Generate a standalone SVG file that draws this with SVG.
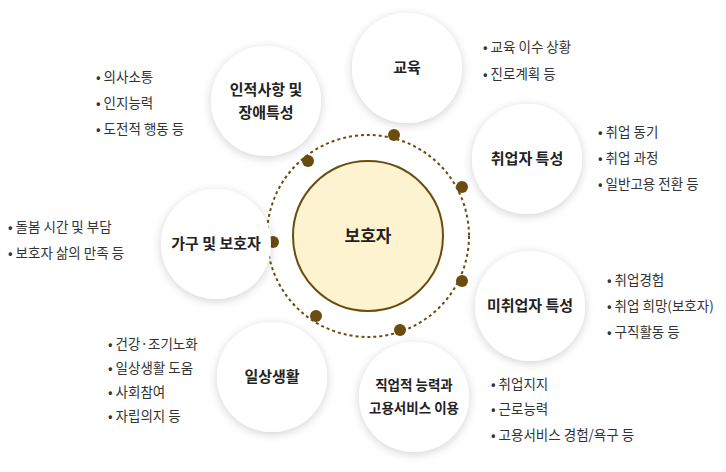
<svg xmlns="http://www.w3.org/2000/svg" width="726" height="472" viewBox="0 0 726 472">
<defs>
<filter id="sh" x="-30%" y="-30%" width="160%" height="160%"><feDropShadow dx="0" dy="2" stdDeviation="5" flood-color="#000" flood-opacity="0.18"/></filter>
<style>
text{font-family:"Noto Sans CJK KR","Noto Sans",sans-serif;fill:#222}
.n{fill:#fff;filter:url(#sh)}
.t{font-size:15px;font-weight:bold;text-anchor:middle}
.l{font-size:13.5px;fill:#333}
.b{fill:#6b4c0f}
</style>
</defs>
<rect width="726" height="472" fill="#fff"/>
<g id="connectors">
<circle cx="368" cy="236" r="101" fill="none" stroke="#6b4c0f" stroke-width="2" stroke-dasharray="3,3"/>
<circle class="b" cx="394" cy="135" r="6"/><circle class="b" cx="308" cy="161" r="6"/><circle class="b" cx="462" cy="187" r="6"/><circle class="b" cx="273" cy="242" r="6"/><circle class="b" cx="462" cy="281" r="6"/><circle class="b" cx="316" cy="316" r="6"/><circle class="b" cx="400" cy="330" r="6"/>
</g>
<g id="center"><circle cx="368" cy="236" r="75" fill="#fdf3d0" stroke="#6b4c0f" stroke-width="2"/><text class="t" x="368" y="242" style="font-size:17px">보호자</text></g>
<g id="n1"><circle class="n" cx="407" cy="68" r="55"/><text class="t" x="407" y="73">교육</text></g>
<g id="n2"><circle class="n" cx="266" cy="101" r="55"/><text class="t" x="266" y="95">인적사항 및</text><text class="t" x="266" y="118">장애특성</text></g>
<g id="n3"><circle class="n" cx="527" cy="159" r="55"/><text class="t" x="527" y="164">취업자 특성</text></g>
<g id="n4"><circle class="n" cx="216" cy="244" r="55"/><text class="t" x="216" y="249">가구 및 보호자</text></g>
<g id="n5"><circle class="n" cx="530" cy="306" r="55"/><text class="t" x="530" y="311">미취업자 특성</text></g>
<g id="n6"><circle class="n" cx="272" cy="377" r="55"/><text class="t" x="272" y="382">일상생활</text></g>
<g id="n7"><circle class="n" cx="414" cy="397" r="55"/><text class="t" x="414" y="390" style="font-size:13.5px">직업적 능력과</text><text class="t" x="414" y="413" style="font-size:13.5px">고용서비스 이용</text></g>
<g id="labels">
<text class="l" x="483" y="52">•  교육 이수 상황</text><text class="l" x="483" y="79">•  진로계획 등</text>
<text class="l" x="96" y="82">•  의사소통</text><text class="l" x="96" y="108">•  인지능력</text><text class="l" x="96" y="134">•  도전적 행동 등</text>
<text class="l" x="598" y="137">•  취업 동기</text><text class="l" x="598" y="163">•  취업 과정</text><text class="l" x="598" y="189">•  일반고용 전환 등</text>
<text class="l" x="8" y="232">•  돌봄 시간 및 부담</text><text class="l" x="8" y="258">•  보호자 삶의 만족 등</text>
<text class="l" x="607" y="285">•  취업경험</text><text class="l" x="607" y="311">•  취업 희망(보호자)</text><text class="l" x="607" y="337">•  구직활동 등</text>
<text class="l" x="108" y="349">•  건강·조기노화</text><text class="l" x="108" y="373">•  일상생활 도움</text><text class="l" x="108" y="397">•  사회참여</text><text class="l" x="108" y="421">•  자립의지 등</text>
<text class="l" x="491" y="389">•  취업지지</text><text class="l" x="491" y="414">•  근로능력</text><text class="l" x="491" y="440">•  고용서비스 경험/욕구 등</text>
</g>
</svg>
